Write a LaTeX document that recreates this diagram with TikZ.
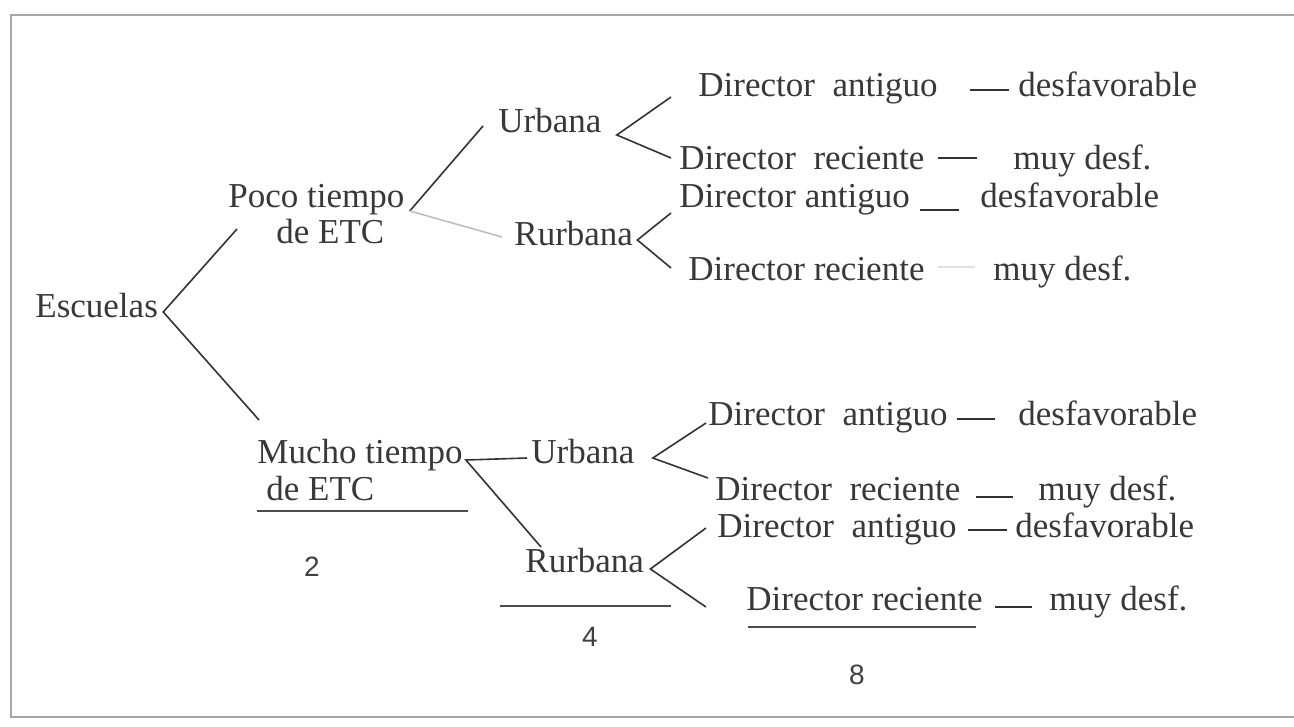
\documentclass[tikz,border=0pt]{standalone}
\usepackage{fontspec}
\setmainfont{Liberation Serif}
\newfontfamily\numfont{Liberation Sans}
\usetikzlibrary{calc}

\tikzset{
  txt/.style={anchor=west, inner sep=0pt, text height=0.7em, text depth=0.2em,
    font=\fontsize{17.5}{21}\selectfont, text=black!78},
  num/.style={inner sep=0pt, font=\numfont\fontsize{14}{16}\selectfont, text=black!75},
  branch/.style={draw=black!80, line width=0.8pt},
  faint/.style={draw=black!25, line width=0.8pt},
  evalline/.style={draw=black!80, line width=0.8pt},
  sumline/.style={draw=black!70, line width=0.9pt},
  framecol/.style={draw=black!35, line width=1.2pt}
}

\begin{document}
\begin{tikzpicture}[x=0.5pt, y=-0.5pt]
    \useasboundingbox (0,0) rectangle (1294,727);
    \draw[framecol] (1294,15) -- (11,15) -- (11,717) -- (1294,717);

    \node[txt] (esc) at (35,312) {Escuelas};
    \node[txt] (poco1) at (228,203) {Poco tiempo};
    \node[txt] (poco2) at (276,238) {de ETC};
    \node[txt] (mucho1) at (257,458) {Mucho tiempo};
    \node[txt] (mucho2) at (266,495) {de ETC};

    \node[txt] (urb1) at (498,128) {Urbana};
    \node[txt] (rur1) at (514,240) {Rurbana};
    \node[txt] (urb2) at (531,458) {Urbana};
    \node[txt] (rur2) at (525,567) {Rurbana};

    \node[txt] (da1) at (698,92) {Director~ antiguo};
    \node[txt] (dr1) at (679,165) {Director~ reciente};
    \node[txt] (da2) at (679,202) {Director antiguo};
    \node[txt] (dr2) at (688,275) {Director reciente};
    \node[txt] (da3) at (708,420) {Director~ antiguo};
    \node[txt] (dr3) at (715,495) {Director~ reciente};
    \node[txt] (da4) at (717,532) {Director~ antiguo};
    \node[txt] (dr4) at (746,605) {Director reciente};

    \node[txt] (de1) at (1018,92) {desfavorable};
    \node[txt] (md1) at (1013,165) {muy desf.};
    \node[txt] (de2) at (980,202) {desfavorable};
    \node[txt] (md2) at (993,275) {muy desf.};
    \node[txt] (de3) at (1018,420) {desfavorable};
    \node[txt] (md3) at (1038,495) {muy desf.};
    \node[txt] (de4) at (1015,532) {desfavorable};
    \node[txt] (md4) at (1049,605) {muy desf.};

    \node[num] (n2) at (312,567) {2};
    \node[num] (n4) at (590,637) {4};
    \node[num] (n8) at (857,675) {8};

    \coordinate (fe) at ($(esc.east)+(5,0)$);
    \draw[branch] ($(poco1.west)+(9,26)$) -- (fe) -- ($(mucho1.west)+(2,-38)$);
    \coordinate (fp) at ($(poco1.east)+(5,8)$);
    \draw[branch] (fp) -- ($(urb1.west)+(-15,-2)$);
    \draw[faint] (fp) -- ($(rur1.west)+(-12,-3)$);
    \coordinate (fm) at ($(mucho1.east)+(3,2)$);
    \draw[branch] ($(urb2.west)+(-4,0)$) -- (fm) -- ($(rur2.west)+(16,-20)$);

    \coordinate (fu1) at ($(urb1.east)+(15,7)$);
    \draw[branch] ($(da1.west)+(-27,5)$) -- (fu1) -- ($(dr1.west)+(-8,-7)$);
    \coordinate (fr1) at ($(rur1.east)+(4,0)$);
    \draw[branch] ($(da2.west)+(-8,11)$) -- (fr1) -- ($(dr2.west)+(-17,-7)$);
    \coordinate (fu2) at ($(urb2.east)+(18,0)$);
    \draw[branch] ($(da3.west)+(-2,3)$) -- (fu2) -- ($(dr3.west)+(-7,-17)$);
    \coordinate (fr2) at ($(rur2.east)+(6,2)$);
    \draw[branch] ($(da4.west)+(-11,-4)$) -- (fr2) -- ($(dr4.west)+(-40,2)$);

    \draw[evalline] ($(de1.west)+(-48,-2)$) -- ++(39,0);
    \draw[evalline] ($(md1.west)+(-75,-7)$) -- ++(39,0);
    \draw[evalline] ($(de2.west)+(-60,8)$) -- ++(39,0);
    \draw[evalline, draw=black!12] ($(md2.west)+(-55,-8)$) -- ++(37,0);
    \draw[evalline] ($(de3.west)+(-61,-1)$) -- ++(38,0);
    \draw[evalline] ($(md3.west)+(-62,2)$) -- ++(37,0);
    \draw[evalline] ($(de4.west)+(-47,-2)$) -- ++(39,0);
    \draw[evalline] ($(md4.west)+(-54,2)$) -- ++(37,0);

    \draw[sumline] ($(mucho1.west)+(0,53)$) -- ++(211,0);
    \draw[sumline] ($(rur2.west)+(-25,39)$) -- ++(171,0);
    \draw[sumline] ($(dr4.west)+(2,22)$) -- ++(228,0);
\end{tikzpicture}
\end{document}
